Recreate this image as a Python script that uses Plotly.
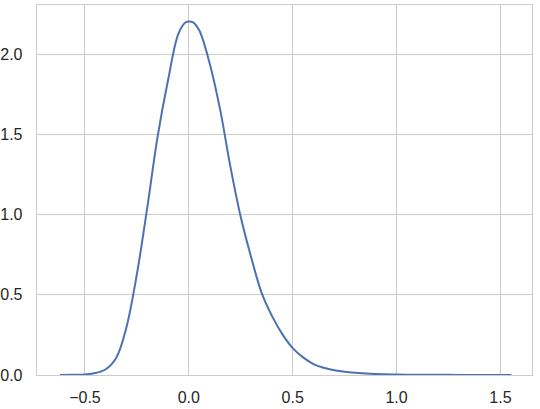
import plotly.graph_objects as go

# KDE curve values
x_vals = [-0.62, -0.55, -0.5, -0.45, -0.40, -0.35, -0.30, -0.25, -0.20, -0.15,
          -0.10, -0.05, -0.015, 0.0, 0.02, 0.05, 0.10, 0.15, 0.20, 0.25,
          0.30, 0.35, 0.40, 0.45, 0.50, 0.55, 0.60, 0.65, 0.70, 0.75,
          0.80, 0.90, 1.0, 1.1, 1.2, 1.3, 1.4, 1.553]
y_vals = [0.0, 0.0008, 0.003, 0.012, 0.036, 0.106, 0.30, 0.63, 1.045, 1.49,
          1.84, 2.13, 2.2, 2.205, 2.2, 2.15, 1.945, 1.66, 1.30, 0.985,
          0.734, 0.514, 0.369, 0.255, 0.168, 0.11, 0.068, 0.045, 0.030, 0.020,
          0.014, 0.006, 0.003, 0.0015, 0.001, 0.0006, 0.0003, 0.0]

x_tickvals = [-0.5, 0.0, 0.5, 1.0, 1.5]
x_ticktext = ["\u22120.5", "0.0", "0.5", "1.0", "1.5"]
y_tickvals = [0.0, 0.5, 1.0, 1.5, 2.0]
y_ticktext = ["0.0", "0.5", "1.0", "1.5", "2.0"]

fig = go.Figure()
fig.add_trace(go.Scatter(
    x=x_vals, y=y_vals, mode="lines",
    line=dict(color="#4C72B0", width=2, shape="spline", smoothing=1.0),
    hoverinfo="skip", showlegend=False,
))

axis_common = dict(
    showgrid=True, gridcolor="#cccccc", gridwidth=1,
    showline=True, linecolor="#cccccc", linewidth=1.3, mirror=True,
    zeroline=False, ticks="", automargin=False,
    tickfont=dict(family="Liberation Sans, Arial, sans-serif", size=16, color="#262626"),
)

fig.update_xaxes(range=[-0.731, 1.652], tickvals=x_tickvals, ticktext=x_ticktext,
                 ticklabelstandoff=7, **axis_common)
fig.update_yaxes(range=[0, 2.308], tickvals=y_tickvals, ticktext=y_ticktext,
                 ticklabelstandoff=10, **axis_common)

fig.update_layout(
    width=540, height=409,
    margin=dict(l=37, r=8, t=5, b=34),
    plot_bgcolor="white", paper_bgcolor="white",
)

fig.write_html("out.html",
               config={"displayModeBar": False, "staticPlot": True},
               post_script="document.body.style.margin='0';document.body.style.overflow='hidden';")
